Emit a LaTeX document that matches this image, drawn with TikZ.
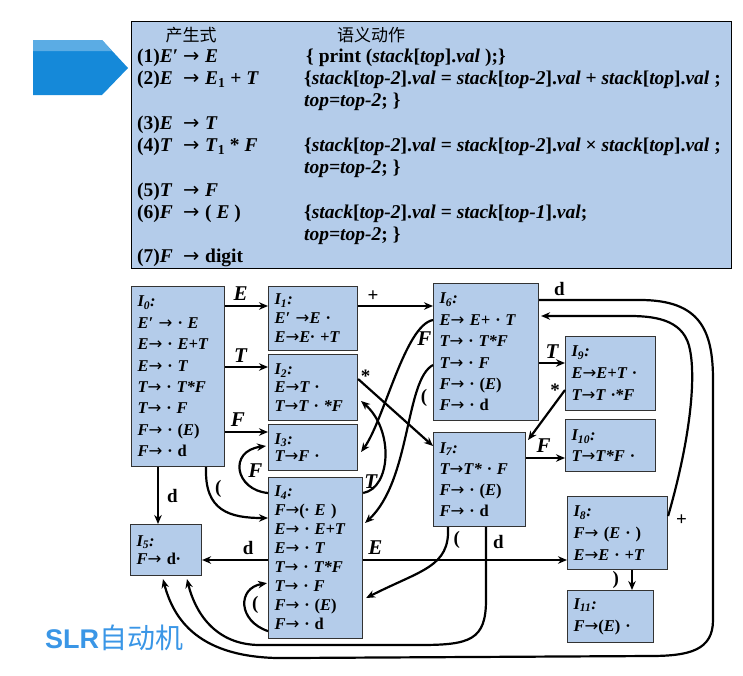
\documentclass[tikz,border=0pt]{standalone}
\usepackage{fontspec}
\usepackage{newunicodechar}
\setmainfont{Liberation Serif}
\newfontfamily\cjk{Noto Sans CJK SC}
\newfontfamily\lsans{Liberation Sans}
\newfontface\arfont{DejaVu Sans}
\newunicodechar{→}{{\arfont\symbol{"2192}}}
\usetikzlibrary{arrows.meta,calc}
\definecolor{boxblue}{HTML}{B4CCEA}
\definecolor{arrblue}{HTML}{1589D9}
\definecolor{slrblue}{HTML}{3A96E6}
\newcommand\iv[1]{\textit{#1}}
\newcommand\Ii[1]{I\textsubscript{#1}:}
\newcommand\up[1]{\textup{#1}}
\newcommand\prd[3]{\makebox[46pt][l]{#1}\makebox[22pt][l]{→}#3}
\newcommand\bx[8]{%
  \node[state,minimum width=#4pt,minimum height=#5pt,text width=#6pt,
        font=\fontsize{16.5}{#7}\selectfont\bfseries\itshape] (#1) at (#2,#3) {#8};}
\begin{document}
\begin{tikzpicture}[x=1pt,y=-1pt,
  state/.style={draw=black!80,line width=1.1pt,fill=boxblue,anchor=north west,
    inner xsep=6pt,inner ysep=0pt,align=left},
  topbox/.style={draw=black,line width=1.3pt,fill=boxblue,anchor=north west,inner sep=0pt},
  ptext/.style={anchor=base west,inner sep=0pt,font=\fontsize{19.5}{19.5}\selectfont\bfseries},
  hdr/.style={anchor=center,inner sep=0pt,font=\cjk\fontsize{17}{17}\selectfont},
  arr/.style={line width=2.2pt,-{Stealth[length=9pt,width=7.5pt]}},
  lbl/.style={font=\fontsize{21}{21}\selectfont\bfseries\itshape,inner sep=0pt},
  sym/.style={font=\fontsize{19}{19}\selectfont\bfseries,inner sep=0pt},
]
\useasboundingbox (0,0) rectangle (743,675);
% pentagon arrow
\fill[arrblue] (33,40) -- (102,40) -- (128,68) -- (102,95) -- (33,95) -- cycle;
\fill[arrblue!70!white] (33,40) -- (102,40) -- (112,51) -- (33,51) -- cycle;
% top box
\node[topbox,minimum width=600pt,minimum height=247pt] (top) at (131,21) {};
\node[hdr] (h1) at (191,35) {产生式};
\node[hdr] (h2) at (371,35) {语义动作};
\node[ptext] (p1) at (137,62) {\prd{(1)\iv{E}′}{}{\iv{E}}};
\node[ptext] (p2) at (137,84) {\prd{(2)\iv{E}}{}{\iv{E}\textsubscript{1} + \iv{T}}};
\node[ptext] (p3) at (137,129) {\prd{(3)\iv{E}}{}{\iv{T}}};
\node[ptext] (p4) at (137,151) {\prd{(4)\iv{T}}{}{\iv{T}\textsubscript{1} * \iv{F}}};
\node[ptext] (p5) at (137,196) {\prd{(5)\iv{T}}{}{\iv{F}}};
\node[ptext] (p6) at (137,218) {\prd{(6)\iv{F}}{}{( \iv{E} )}};
\node[ptext] (p7) at (137,262) {\prd{(7)\iv{F}}{}{digit}};
\node[ptext] (a1) at (306,62) {\{ print (\iv{stack}[\iv{top}].\iv{val} );\}};
\node[ptext] (a2) at (304,84) {\{\iv{stack}[\iv{top-2}].\iv{val} = \iv{stack}[\iv{top-2}].\iv{val} + \iv{stack}[\iv{top}].\iv{val} ;};
\node[ptext] (a3) at (304,106) {\iv{top=top-2}; \}};
\node[ptext] (a4) at (304,151) {\{\iv{stack}[\iv{top-2}].\iv{val} = \iv{stack}[\iv{top-2}].\iv{val} × \iv{stack}[\iv{top}].\iv{val} ;};
\node[ptext] (a5) at (304,173) {\iv{top=top-2}; \}};
\node[ptext] (a6) at (304,218) {\{\iv{stack}[\iv{top-2}].\iv{val} = \iv{stack}[\iv{top-1}].\iv{val};};
\node[ptext] (a7) at (304,240) {\iv{top=top-2}; \}};
% states
\bx{I0}{131}{286}{93}{180}{81}{21.4}{\Ii{0}\\E′ → · E\\E→ · E+T\\E→ · T\\T→ · T*F\\T→ · F\\F→ · \up{(}E\up{)}\\F→ · \up{d}}
\bx{I1}{268}{286}{89}{64}{77}{19}{\Ii{1}\\E′ →E ·\\E→E· +T}
\bx{I2}{268}{354}{89}{66}{77}{18.5}{\Ii{2}\\E→T ·\\T→T · *F}
\bx{I3}{268}{424}{89}{46}{77}{17.5}{\Ii{3}\\T→F ·}
\bx{I4}{268}{477}{94}{161}{82}{19}{\Ii{4}\\F→\up{(}· E \up{)}\\E→ · E+T\\E→ · T\\T→ · T*F\\T→ · F\\F→ · \up{(}E\up{)}\\F→ · \up{d}}
\bx{I5}{130}{524}{71}{51}{59}{18.5}{\Ii{5}\\F→ \up{d}·}
\bx{I6}{433}{283}{105}{137}{93}{21.4}{\Ii{6}\\E→ E+ · T\\T→ · T*F\\T→ · F\\F→ · \up{(}E\up{)}\\F→ · \up{d}}
\bx{I7}{433}{432}{92}{94}{80}{21}{\Ii{7}\\T→T* · F\\F→ · \up{(}E\up{)}\\F→ · \up{d}}
\bx{I8}{567}{496}{100}{73}{88}{22}{\Ii{8}\\F→ \up{(}E · \up{)}\\E→E · +T}
\bx{I9}{565}{336}{90}{74}{78}{22}{\Ii{9}\\E→E+T ·\\T→T ·*F}
\bx{I10}{565}{419}{90}{52}{78}{21}{\Ii{10}\\T→T*F ·}
\bx{I11}{567}{590}{86}{52}{74}{22}{\Ii{11}\\F→\up{(}E\up{)} ·}
% edges
\draw[arr] ($(I0.north east)+(0,20)$) -- node[lbl,pos=.36,above=4pt] (l1) {E} ($(I1.north west)+(0,20)$);
\draw[arr] ($(I0.north east)+(0,81)$) -- node[lbl,pos=.36,above=3pt] (l2) {T} ($(I2.north west)+(0,13)$);
\draw[arr] ($(I0.north east)+(0,146)$) -- node[lbl,pos=.3,above=4pt] (l3) {F} ($(I3.north west)+(0,8)$);
\draw[arr] ($(I0.south west)+(27,0)$) -- node[sym,midway,right=8pt] (l4) {d} ($(I5.north west)+(28,0)$);
\draw[arr] ($(I0.south east)+(-19,0)$) .. controls +(-2,44) and +(-38,0) .. node[sym,pos=.2,right=6pt] (l5) {(} ($(I4.north west)+(0,41)$);
\draw[arr] ($(I4.north west)+(0,16)$) .. controls +(-33,-3) and +(-38,5) .. node[lbl,pos=.5,right=7pt] (l6) {F} ($(I3.north west)+(-2,22)$);
\draw[arr] ($(I4.south west)+(0,-8)$) .. controls +(-30,-10) and +(-30,5) .. node[sym,pos=.5,right=6pt] (l7) {(} ($(I4.south west)+(-1,-56)$);
\draw[arr] ($(I4.north west)+(0,83)$) -- node[sym,pos=.3,above=4pt] (l8) {d} ($(I5.north east)+(0,36)$);
\draw[arr] ($(I4.north east)+(0,83)$) -- node[lbl,pos=.06,above=4pt] (l9) {E} ($(I8.north west)+(0,64)$);
\draw[arr] ($(I1.north east)+(0,20)$) -- node[sym,pos=.2,above=3pt] (l10) {+} ($(I6.north west)+(0,23)$);
\draw[arr] ($(I2.north east)+(0,25)$) -- node[sym,pos=.1,above=2pt] (l11) {*} ($(I7.north west)+(0,14)$);
\draw[arr] ($(I6.north west)+(0,37)$) .. controls +(-28,5) and +(23,-32) .. node[lbl,pos=.25,right=3pt] (l12) {F} ($(I3.north east)+(3,28)$);
\draw[arr] ($(I6.north west)+(0,82)$) .. controls +(-28,15) and +(46,-43) .. node[sym,pos=.3,right=5pt] (l13) {(} ($(I4.north east)+(2,46)$);
\draw[arr] ($(I4.north east)+(0,16)$) .. controls +(28,-5) and +(33,29) .. node[lbl,pos=.1,above=0pt] (l14) {T} ($(I2.north east)+(3,47)$);
\draw[arr] ($(I7.south west)+(15,0)$) .. controls +(2,40) and +(55,-28) .. node[sym,pos=.12,right=5pt] (l15) {(} ($(I4.north east)+(3,121)$);
\draw[arr] ($(I7.south west)+(53,0)$) -- node[sym,pos=.2,right=6pt] (l16) {d} (486,600) .. controls (486,640) and (470,645) .. (420,645) -- (260,645) .. controls (215,645) and (195,612) .. ($(I5.south west)+(57,3)$);
\draw[arr] ($(I7.north east)+(0,26)$) -- node[lbl,pos=.45,above=4pt] (l17) {F} ($(I10.north west)+(0,39)$);
\draw[arr] ($(I6.north east)+(0,80)$) -- node[lbl,pos=.5,above=3pt] (l18) {T} ($(I9.north west)+(0,27)$);
\draw[arr] ($(I9.north west)+(0,54)$) node[sym,left=4pt] (l19) {*} -- ($(I7.north east)+(2,8)$);
\draw[arr] ($(I6.north east)+(0,17)$) -- node[sym,pos=.2,above=3pt] (l20) {d} (640,300) .. controls (700,300) and (713,330) .. (713,380) -- (713,620) .. controls (713,650) and (690,656) .. (650,656) -- (290,658) .. controls (205,660) and (175,625) .. ($(I5.south west)+(33,3)$);
\draw[arr] ($(I8.north east)+(0,20)$) node[sym,anchor=north west,xshift=7pt,yshift=2pt] (l21) {+} .. controls (690,440) and (696,380) .. (690,350) .. controls (685,322) and (660,316) .. (630,316) -- ($(I6.north east)+(2,33)$);
\draw[arr] ($(I8.south west)+(65,0)$) -- node[sym,midway,left=12pt] (l22) {)} ($(I11.north west)+(65,0)$);
% caption
\node[anchor=west,inner sep=0pt,text=slrblue] (cap) at (45,638) {{\lsans\bfseries\fontsize{27}{27}\selectfont SLR}{\cjk\fontsize{28}{28}\selectfont 自动机}};
\end{tikzpicture}
\end{document}
